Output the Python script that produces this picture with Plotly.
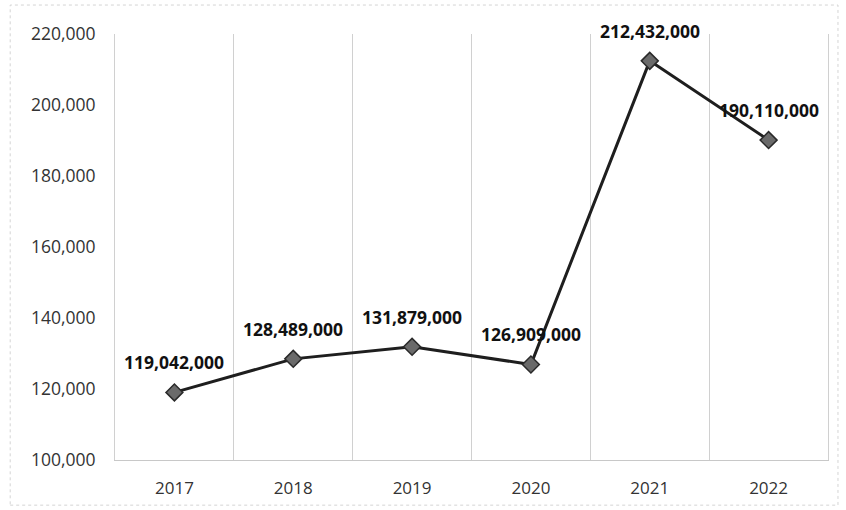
import plotly.graph_objects as go

years = ["2017", "2018", "2019", "2020", "2021", "2022"]
values = [119042, 128489, 131879, 126909, 212432, 190110]
labels = ["119,042,000", "128,489,000", "131,879,000", "126,909,000", "212,432,000", "190,110,000"]
y_ticks = [100000, 120000, 140000, 160000, 180000, 200000, 220000]

FONT = "Open Sans"

fig = go.Figure()
fig.add_trace(go.Scatter(
    x=years, y=values, mode="lines+markers",
    line=dict(color="#1e1e1e", width=3),
    marker=dict(symbol="diamond", size=13, color="#6a6a6a",
                line=dict(color="#2a2a2a", width=1.5)),
    hoverinfo="skip", showlegend=False,
))

for i, (v, lab) in enumerate(zip(values, labels)):
    fig.add_annotation(x=i, y=v, text=f"<b>{lab}</b>", showarrow=False,
                       yshift=30, font=dict(family=FONT, size=17.5, color="#111"))

fig.update_layout(
    width=846, height=510,
    margin=dict(l=115, r=18, t=34, b=50),
    paper_bgcolor="white", plot_bgcolor="white",
    font=dict(family=FONT, color="#333"),
    xaxis=dict(type="category", categoryorder="array", categoryarray=years,
               range=[-0.5, len(years) - 0.5], tickson="boundaries", showgrid=True,
               gridcolor="#d0d0d0", gridwidth=1, showline=True,
               linecolor="#c8c8c8", linewidth=1, ticks="",
               tickfont=dict(size=17, color="#333"), ticklabelstandoff=13,
               zeroline=False, tickangle=0),
    yaxis=dict(range=[100000, 220000], tickvals=y_ticks,
               ticktext=[f"{t:,}" for t in y_ticks], showgrid=False,
               zeroline=False, showline=True, mirror=True,
               linecolor="#d0d0d0", linewidth=1, ticks="",
               tickfont=dict(size=17.5, color="#333"), ticklabelstandoff=15),
    shapes=[dict(type="rect", xref="paper", yref="paper",
                 x0=-0.147, x1=1.014, y0=-0.106, y1=1.068,
                 line=dict(color="#d4d4d4", width=1, dash="dot"),
                 layer="below")],
)

fig.write_html("out.html")
